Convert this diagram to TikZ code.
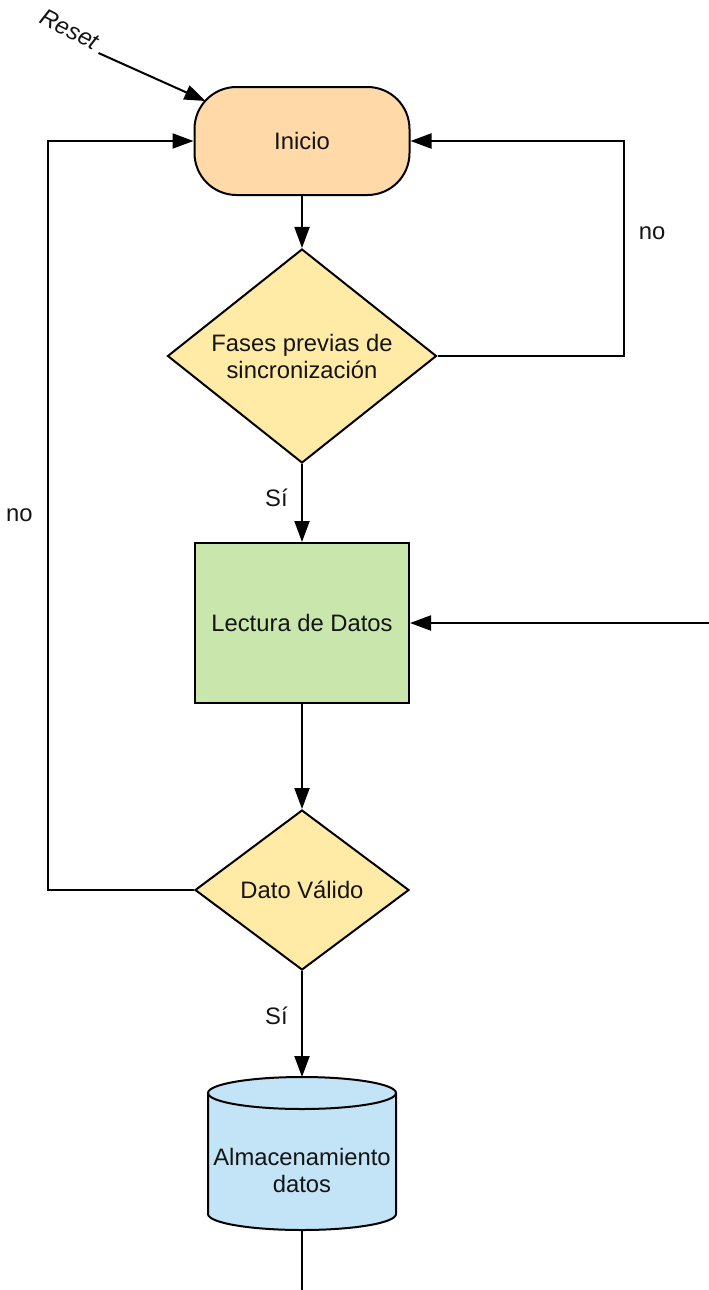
\documentclass[tikz,border=0pt]{standalone}
\usepackage{fontspec}
\setmainfont{Liberation Sans}
\usetikzlibrary{shapes.geometric,arrows.meta}
\definecolor{inicioC}{HTML}{FFD9A8}
\definecolor{decC}{HTML}{FFEAA6}
\definecolor{procC}{HTML}{C9E7AC}
\definecolor{storeC}{HTML}{C3E4F7}

\begin{document}
\begin{tikzpicture}[x=1pt,y=-1pt,
  every node/.style={font=\fontsize{23.8}{27}\selectfont, text=black!92},
  base/.style={draw, line width=2pt, inner sep=0pt, align=center},
  startbox/.style={base, rectangle, rounded corners=42pt, fill=inicioC,
    minimum width=215pt, minimum height=108pt},
  decision/.style={base, diamond, fill=decC},
  processbox/.style={base, rectangle, fill=procC,
    minimum width=214pt, minimum height=160pt},
  line/.style={line width=2pt},
  arrow/.style={line, -{Triangle[length=21pt,width=15pt]}}]
\useasboundingbox (0,0) rectangle (709,1290);

\node[startbox] (inicio) at (302,141) {Inicio};
\node[decision, minimum width=269pt, minimum height=214pt, aspect=1.26]
  (fases) at (302,356) {Fases previas de\\sincronización};
\node[processbox] (lectura) at (302,623) {Lectura de Datos};
\node[decision, minimum width=214pt, minimum height=160pt, aspect=1.34]
  (dato) at (302,890) {Dato Válido};

% almacenamiento
\draw[line, fill=storeC] (208,1093) -- (208,1214)
  arc[start angle=180, end angle=360, x radius=94pt, y radius=16pt] -- (396,1093)
  arc[start angle=0, end angle=180, x radius=94pt, y radius=16pt] -- cycle;
\draw[line] (208,1093) arc[start angle=180, end angle=360, x radius=94pt, y radius=16pt];
\node[align=center, inner sep=0pt] (alm) at (302,1170) {Almacenamiento\\datos};
\coordinate (almtop) at (302,1077);
\coordinate (almbot) at (302,1230);
\coordinate (fin) at (302,1290);
\coordinate (entrada) at (709,623);

\node[font=\fontsize{23.8}{27}\selectfont\itshape, rotate=-27, anchor=base east,
  inner sep=0pt] (reset) at (94,51) {Reset};

\draw[arrow, shorten <=5pt] (reset.base east) -- ([shift={(12pt,-15pt)}]inicio.north west);
\draw[arrow] (inicio) -- (fases);
\draw[arrow] (fases.east) -- ++(186,0) coordinate (c1) -- (c1 |- inicio.east)
  node[pos=0.57, right=11pt] {no} -- (inicio.east);
\draw[arrow] (fases) -- node[pos=0.43, left=10pt] {Sí} (lectura);
\draw[arrow] (entrada) -- (lectura);
\draw[arrow] (lectura) -- (dato);
\draw[arrow] (dato.west) -- (48,890) coordinate (c2) -- (c2 |- inicio.west)
  node[pos=0.5, left=11pt] {no} -- (inicio.west);
\draw[arrow] (dato) -- node[pos=0.42, left=10pt] {Sí} (almtop);
\draw[line] (almbot) -- (fin);
\end{tikzpicture}
\end{document}
